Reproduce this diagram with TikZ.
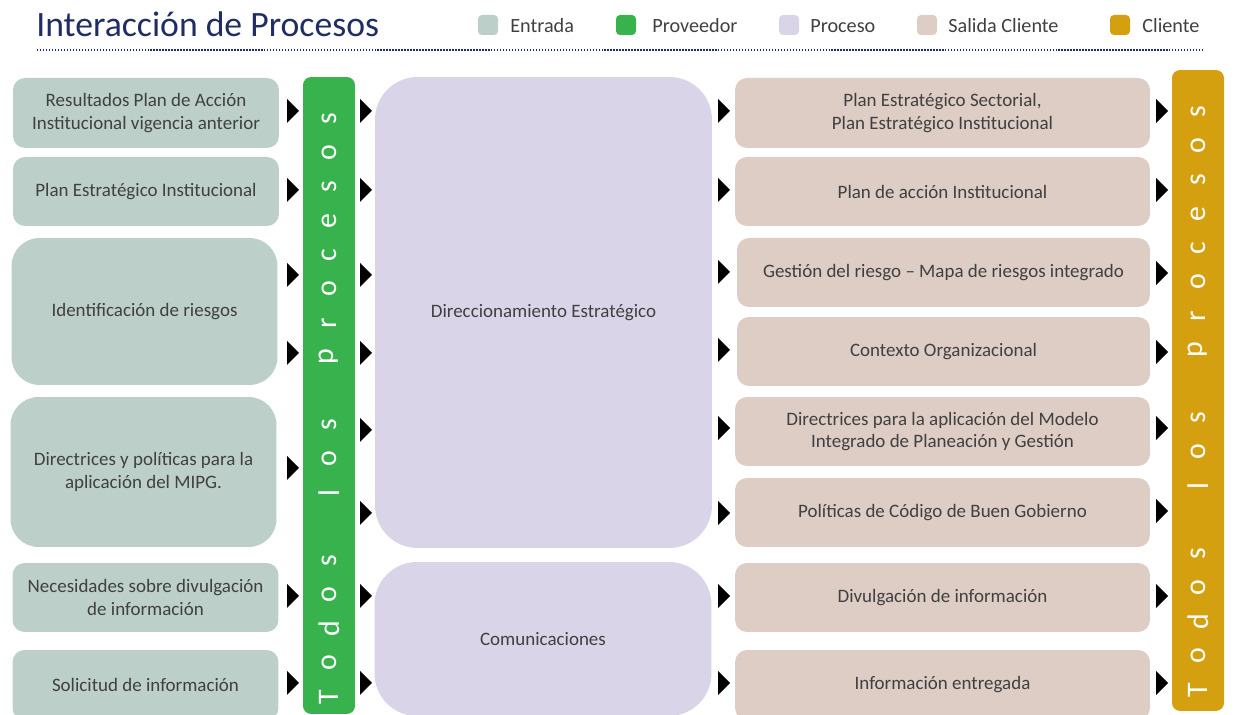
\documentclass[tikz,border=0pt]{standalone}
\usepackage{fontspec}
\setmainfont{Carlito}
\usepackage{xcolor}
\usetikzlibrary{positioning}
\definecolor{entrada}{RGB}{188,208,201}
\definecolor{proveedor}{RGB}{55,178,77}
\definecolor{proceso}{RGB}{218,212,232}
\definecolor{salida}{RGB}{222,205,197}
\definecolor{cliente}{RGB}{212,160,16}
\definecolor{navy}{RGB}{31,45,100}
\definecolor{txt}{RGB}{64,64,64}
\tikzset{
  base box/.style={
    rounded corners=0.24cm,
    align=center,
    inner sep=2pt,
    text=txt,
    font=\fontsize{10.8}{13}\selectfont,
  },
  in box/.style={
    base box,
    fill=entrada,
    minimum width=5.32cm,
    minimum height=#1,
  },
  out box/.style={
    base box,
    fill=salida,
    minimum width=8.3cm,
    minimum height=#1,
  },
  proc box/.style={
    base box,
    rounded corners=0.85cm,
    fill=proceso,
    minimum width=6.74cm,
    minimum height=#1,
  },
  bar/.style={
    rounded corners=0.16cm,
    fill=#1,
    minimum width=1.04cm,
  },
  bar letter/.style={
    rotate=90,
    text=white,
    inner sep=0pt,
    font=\fontsize{17}{20}\selectfont,
  },
  key box/.style={
    rounded corners=0.08cm,
    fill=#1,
    minimum size=0.4cm,
    inner sep=0pt,
  },
  key text/.style={
    anchor=west,
    text=txt,
    inner sep=0pt,
    font=\fontsize{11.5}{14}\selectfont,
  },
  tri/.pic={
    \fill (-6,-12) -- (6,0) -- (-6,12) -- cycle;
  }
}

\begin{document}
\begin{tikzpicture}[x=0.02cm, y=-0.02cm]
    \useasboundingbox (0,0) rectangle (1235,715);

    \node [anchor=base west, inner sep=0pt, text=navy, font=\fontsize{20.3}{24}\selectfont] (title) at (36,37) {Interacción de Procesos};
    \coordinate (rule start) at (37,50);
    \coordinate (rule end) at (1202,50);
    \draw [navy, line width=1.4pt, dash pattern=on 0.85pt off 0.85pt] (rule start) -- (rule end);

    \node [key box=entrada] (k1) at (488,25) {};
    \node [key text] (t1) at (510,26) {Entrada};
    \node [key box=proveedor] (k2) at (626,25) {};
    \node [key text] (t2) at (652,26) {Proveedor};
    \node [key box=proceso] (k3) at (789,25) {};
    \node [key text] (t3) at (810,26) {Proceso};
    \node [key box=salida] (k4) at (927,25) {};
    \node [key text] (t4) at (948,26) {Salida Cliente};
    \node [key box=cliente] (k5) at (1120,25) {};
    \node [key text] (t5) at (1142,26) {Cliente};

    \node [in box=1.4cm] (in1) at (146,113) {Resultados Plan de Acción\\Institucional vigencia anterior};
    \node [in box=1.38cm] (in2) at (146,191.5) {Plan Estratégico Institucional};
    \node [in box=2.94cm, rounded corners=0.56cm] (in3) at (144.5,311.5) {Identificación de riesgos};
    \node [in box=3cm, rounded corners=0.56cm] (in4) at (143.5,472) {Directrices y políticas para la\\aplicación del MIPG.};
    \node [in box=1.38cm] (in5) at (145.5,597.5) {Necesidades sobre divulgación\\de información};
    \node [in box=1.4cm] (in6) at (145.5,685) {Solicitud de información};

    \node [bar=proveedor, minimum height=12.74cm] (prov) at (329,395.5) {};
    \foreach \ch [count=\i from 0] in {T,o,d,o,s,{},l,o,s,{},p,r,o,c,e,s,o,s}
      \node [bar letter] (pv\i) at (329,697-34*\i) {\ch};

    \node [proc box=9.42cm] (dir) at (543.5,312.5) {Direccionamiento Estratégico};
    \node [proc box=3.08cm] (com) at (543,639) {Comunicaciones};

    \node [out box=1.4cm] (out1) at (942.5,113) {Plan Estratégico Sectorial,\\Plan Estratégico Institucional};
    \node [out box=1.38cm] (out2) at (942.5,191.5) {Plan de acción Institucional};
    \node [out box=1.38cm, minimum width=8.26cm] (out3) at (943.5,272.5) {Gestión del riesgo -- Mapa de riesgos integrado};
    \node [out box=1.38cm, minimum width=8.26cm] (out4) at (943.5,351.5) {Contexto Organizacional};
    \node [out box=1.38cm] (out5) at (942.5,431.5) {Directrices para la aplicación del Modelo\\Integrado de Planeación y Gestión};
    \node [out box=1.38cm] (out6) at (942.5,512.5) {Políticas de Código de Buen Gobierno};
    \node [out box=1.38cm] (out7) at (942.5,597.5) {Divulgación de información};
    \node [out box=1.4cm] (out8) at (942.5,685) {Información entregada};

    \node [bar=cliente, minimum height=12.82cm] (cli) at (1198,390.5) {};
    \foreach \ch [count=\i from 0] in {T,o,d,o,s,{},l,o,s,{},p,r,o,c,e,s,o,s}
      \node [bar letter] (cl\i) at (1198,690-34*\i) {\ch};

    \foreach \y in {111,190,275,353,468,596,683}
      \pic at (293,\y) {tri};
    \foreach \y in {111,190,275,353,430,513,596,683}
      \pic at (366,\y) {tri};
    \foreach \y in {111,190,272,350,428,513,596,683}
      \pic at (724,\y) {tri};
    \foreach \y in {111,190,273,352,428,511,596,683}
      \pic at (1162,\y) {tri};
\end{tikzpicture}
\end{document}
